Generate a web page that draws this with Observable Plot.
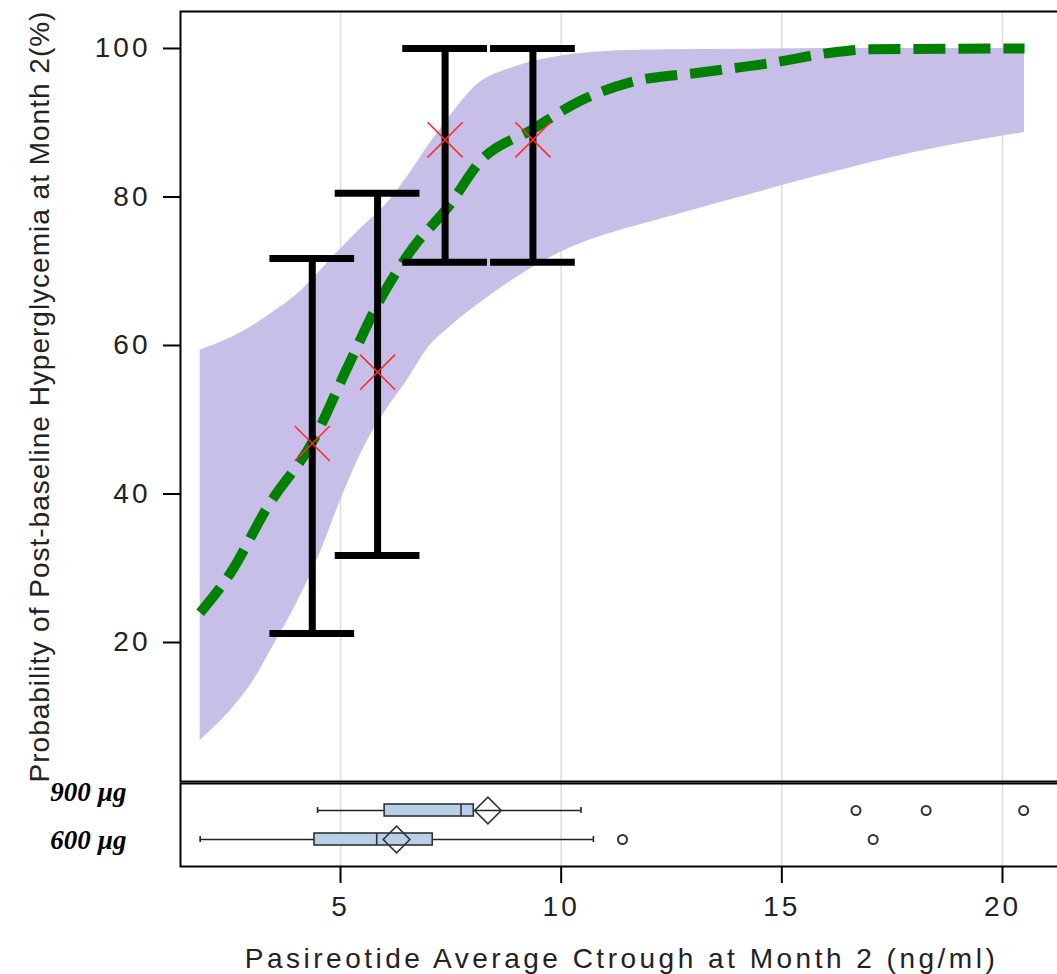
<!DOCTYPE html>
<html>
<head>
<meta charset="utf-8">
<script src="https://cdn.jsdelivr.net/npm/d3@7"></script>
<script src="https://cdn.jsdelivr.net/npm/@observablehq/plot@0.6"></script>
<style>
  html, body { margin: 0; padding: 0; background: #fff; overflow: hidden; }
  #chart svg { display: block; max-width: none !important; }
  #chart g[aria-label="y-axis tick label"] { letter-spacing: 3px; }
  #chart g[aria-label="x-axis tick label"] { letter-spacing: 3px; }
  #chart g[aria-label="x-axis label"] { letter-spacing: 3.5px; }
  #chart g[aria-label="y-axis label"] { letter-spacing: 1px; }
</style>
</head>
<body>
<div id="chart"></div>
<script>
// ---- Data ----
const xTicks = [5, 10, 15, 20];
const yTicks = [20, 40, 60, 80, 100];

// Confidence band (lower / upper edges)
const bandX  = [1.82, 2.5, 3.0, 3.5, 4.0, 4.5, 5.0, 5.5, 6.0, 6.5, 7.0, 7.5, 8.0, 9.0, 10.0, 11.0, 12.0, 14.0, 16.0, 18.0, 20.5];
const bandLo = [6.8, 10.8, 14.6, 19.8, 25.2, 31.5, 39.1, 45.9, 51.0, 55.2, 59.8, 62.6, 65.0, 69.2, 72.6, 74.9, 76.6, 79.9, 83.1, 86.0, 88.7];
const bandHi = [59.4, 61.0, 62.6, 64.6, 66.8, 69.8, 73.0, 76.0, 78.8, 82.6, 87.0, 91.0, 94.6, 97.6, 99.0, 99.6, 99.8, 99.9, 100, 100, 100];

// Fitted probability curve
const curveX = [1.82, 2.5, 3.34, 4.39, 5.16, 5.91, 6.66, 7.43, 8.18, 9.32, 10.45, 11.6, 13.2, 14.7, 16.2, 17.0, 20.5];
const curveY = [24.0, 29.3, 38.2, 47.3, 57.1, 66.3, 73.3, 78.6, 84.9, 89.0, 93.0, 95.5, 96.8, 98.0, 99.5, 99.9, 100];

// Observed proportions with CIs
const ebX   = [4.36, 5.84, 7.37, 9.36];
const ebLo  = [21.2, 31.7, 71.2, 71.2];
const ebHi  = [71.7, 80.5, 100, 100];
const ebEst = [46.8, 56.4, 87.7, 87.7];

// Box plots by dose
const groups   = ["900 µg", "600 µg"];
const whiskLo  = [4.48, 1.82];
const q1       = [6.0, 4.41];
const medians  = [7.73, 5.82];
const q3       = [8.02, 7.09];
const means    = [8.34, 6.27];
const whiskHi  = [10.45, 10.73];
const outlierGroup = ["900 µg", "900 µg", "900 µg", "600 µg", "600 µg"];
const outlierX     = [16.68, 18.27, 20.48, 11.39, 17.07];

const xLabel = "Pasireotide Average Ctrough at Month 2 (ng/ml)";
const yLabel = "Probability of Post-baseline Hyperglycemia at Month 2(%)";

// ---- Tables built from the arrays ----
const band = bandX.map((x, i) => ({x, lo: bandLo[i], hi: bandHi[i]}));
const curve = curveX.map((x, i) => ({x, y: curveY[i]}));
const eb = ebX.map((x, i) => ({x, lo: ebLo[i], hi: ebHi[i], est: ebEst[i]}));
const boxes = groups.map((g, i) => ({g, wlo: whiskLo[i], q1: q1[i], med: medians[i], q3: q3[i], mean: means[i], whi: whiskHi[i]}));
const outliers = outlierX.map((x, i) => ({x, g: outlierGroup[i]}));

const xDomain = [1.374, 21.36];
const capHalf = 0.96;
const sans = "'Liberation Sans', Arial, Helvetica, sans-serif";
const serif = "'Liberation Serif', 'Times New Roman', serif";

const main = Plot.plot({
  width: 1062,
  height: 782,
  marginLeft: 180,
  marginRight: 0,
  marginTop: 11,
  marginBottom: 1,
  style: {fontFamily: sans, color: "#000", background: "#fff", overflow: "visible"},
  x: {domain: xDomain, axis: null},
  y: {domain: [1.28, 104.98]},
  marks: [
    Plot.gridX(xTicks, {stroke: "#dcdcdc", strokeOpacity: 1, strokeWidth: 1.5}),
    Plot.areaY(band, {x: "x", y1: "lo", y2: "hi", fill: "#c8bfe8", curve: "monotone-x"}),
    Plot.lineY(curve, {x: "x", y: "y", stroke: "#008000", strokeWidth: 10, strokeDasharray: "32,13", strokeLinecap: "butt", strokeLinejoin: "miter", curve: "monotone-x"}),
    Plot.ruleX(eb, {x: "x", y1: "lo", y2: "hi", stroke: "#000", strokeWidth: 7}),
    Plot.ruleY(eb, {y: "lo", x1: d => d.x - capHalf, x2: d => d.x + capHalf, stroke: "#000", strokeWidth: 7}),
    Plot.ruleY(eb, {y: "hi", x1: d => d.x - capHalf, x2: d => d.x + capHalf, stroke: "#000", strokeWidth: 7}),
    Plot.dot(eb, {x: "x", y: "est", symbol: "times", r: 16, stroke: "#ff2a2a", strokeWidth: 1.6}),
    Plot.axisY({
      ticks: yTicks, tickSize: 17, tickPadding: 13, fontSize: 28, strokeWidth: 2, fill: "#222",
      label: yLabel, labelAnchor: "center", labelOffset: 151, labelArrow: false
    }),
    Plot.frame({stroke: "#000", strokeWidth: 2})
  ]
});

const box = Plot.plot({
  width: 1062,
  height: 192,
  marginLeft: 180,
  marginRight: 0,
  marginTop: 1,
  marginBottom: 108,
  style: {fontFamily: sans, color: "#000", background: "#fff", overflow: "visible"},
  x: {domain: xDomain},
  y: {type: "band", domain: groups, paddingInner: 0.586, paddingOuter: 0.724, axis: null},
  marks: [
    Plot.gridX(xTicks, {stroke: "#dcdcdc", strokeOpacity: 1, strokeWidth: 1.5}),
    Plot.ruleY(boxes, {y: "g", x1: "wlo", x2: "whi", stroke: "#222", strokeWidth: 1.6}),
    Plot.tickX(boxes, {x: "wlo", y: "g", stroke: "#222", strokeWidth: 1.6, insetTop: 3, insetBottom: 3}),
    Plot.tickX(boxes, {x: "whi", y: "g", stroke: "#222", strokeWidth: 1.6, insetTop: 3, insetBottom: 3}),
    Plot.barX(boxes, {y: "g", x1: "q1", x2: "q3", fill: "#b8cfe8", stroke: "#333", strokeWidth: 1.6}),
    Plot.tickX(boxes, {x: "med", y: "g", stroke: "#333", strokeWidth: 1.6}),
    Plot.dot(boxes, {x: "mean", y: "g", symbol: "diamond2", r: 12, fill: "none", stroke: "#333", strokeWidth: 1.6}),
    Plot.dot(outliers, {x: "x", y: "g", r: 4.5, fill: "#fff", stroke: "#333", strokeWidth: 2}),
    Plot.text([groups[0]], {y: d => d, text: d => d, frameAnchor: "left", textAnchor: "end", dx: -54, dy: -18,
      fontFamily: serif, fontStyle: "italic", fontWeight: "bold", fontSize: 27, fill: "#000"}),
    Plot.text([groups[1]], {y: d => d, text: d => d, frameAnchor: "left", textAnchor: "end", dx: -54, dy: 1,
      fontFamily: serif, fontStyle: "italic", fontWeight: "bold", fontSize: 27, fill: "#000"}),
    Plot.axisX({
      ticks: xTicks, tickSize: 17, tickPadding: 13, fontSize: 28, strokeWidth: 2, fill: "#222",
      label: xLabel, labelAnchor: "center", labelOffset: 101, labelArrow: false
    }),
    Plot.frame({stroke: "#000", strokeWidth: 2})
  ]
});

const chart = document.getElementById("chart");
chart.appendChild(main);
chart.appendChild(box);
</script>
</body>
</html>
